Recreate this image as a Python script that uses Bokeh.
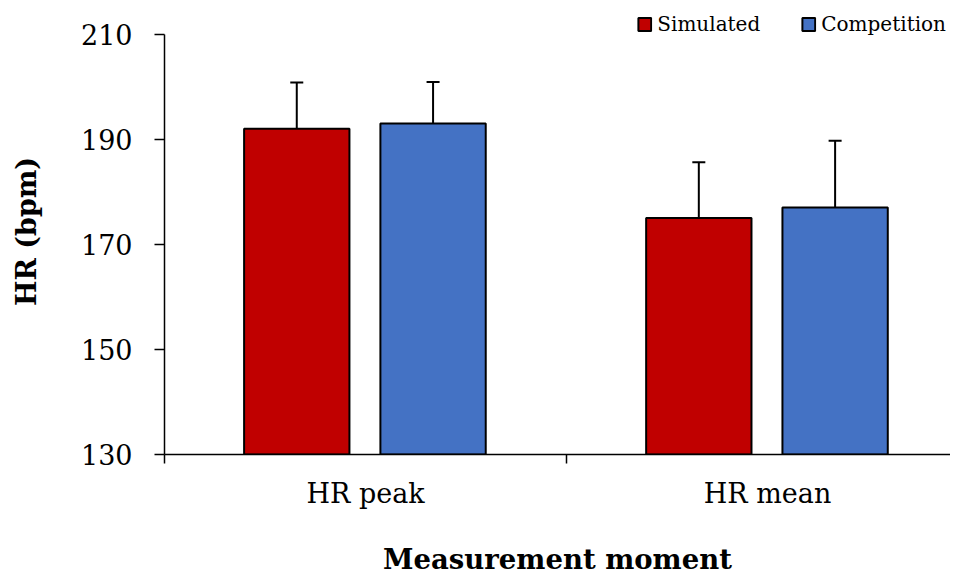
from bokeh.plotting import figure
from bokeh.models import (ColumnDataSource, Range1d, FixedTicker, Whisker, TeeHead,
                          Legend, LegendItem)
from bokeh.embed import file_html
from bokeh.resources import INLINE

# ---- data ----
categories = ["HR peak", "HR mean"]
simulated = [192.0, 175.0]
competition = [193.0, 177.0]
simulated_sd = [8.8, 10.6]
competition_sd = [7.9, 12.7]
y_ticks = [130, 150, 170, 190, 210]

FONT = "DejaVu Serif"
RED = "#C00000"
BLUE = "#4472C4"
BAR_W = 0.262
centers = [i + 0.5 for i in range(len(categories))]

sim_src = ColumnDataSource(dict(
    x=[c - 0.171 for c in centers], top=simulated,
    upper=[m + s for m, s in zip(simulated, simulated_sd)]))
comp_src = ColumnDataSource(dict(
    x=[c + 0.168 for c in centers], top=competition,
    upper=[m + s for m, s in zip(competition, competition_sd)]))

# frame spans fig y 8..454 (446 px); 80 units of data occupy 420.4 px
y_end = 130 + 446 * 80 / 420.4

p = figure(width=950, height=578, output_backend="svg", toolbar_location=None,
           x_range=Range1d(0, 1.955), y_range=Range1d(130, y_end),
           min_border_left=164, min_border_top=8, min_border_bottom=124,
           min_border_right=0)
p.outline_line_color = None
p.xgrid.grid_line_color = None
p.ygrid.grid_line_color = None
p.background_fill_color = "white"

r_sim = p.vbar(x="x", top="top", bottom=130, width=BAR_W, source=sim_src,
               fill_color=RED, line_color="black", line_width=2)
r_comp = p.vbar(x="x", top="top", bottom=130, width=BAR_W, source=comp_src,
                fill_color=BLUE, line_color="black", line_width=2)

for src in (sim_src, comp_src):
    w = Whisker(source=src, base="x", lower="top", upper="upper", dimension="height",
                line_color="black", line_width=2,
                upper_head=TeeHead(size=13, line_width=2, line_color="black"),
                lower_head=None)
    p.add_layout(w)

# y axis
ya = p.yaxis[0]
ya.bounds = (130, 210)
ya.ticker = FixedTicker(ticks=y_ticks, minor_ticks=[])
ya.axis_label = "HR (bpm)"
ya.axis_label_text_font = FONT
ya.axis_label_text_font_style = "bold"
ya.axis_label_text_font_size = "27px"
ya.axis_label_text_color = "black"
ya.major_label_text_font = FONT
ya.major_label_text_font_size = "27px"
ya.major_label_text_color = "black"
ya.major_tick_out = 10
ya.major_tick_in = 0
ya.minor_tick_out = 0
ya.minor_tick_in = 0
ya.major_label_standoff = 22
ya.axis_label_standoff = 36
ya.axis_line_width = 1.5
ya.major_tick_line_width = 1.5

# x axis
xa = p.xaxis[0]
xa.ticker = FixedTicker(ticks=centers, minor_ticks=[0, 1, 2])
xa.major_label_overrides = {c: lab for c, lab in zip(centers, categories)}
xa.axis_label = "Measurement moment"
xa.axis_label_text_font = FONT
xa.axis_label_text_font_style = "bold"
xa.axis_label_text_font_size = "27.5px"
xa.axis_label_text_color = "black"
xa.major_label_text_font = FONT
xa.major_label_text_font_size = "27px"
xa.major_label_text_color = "black"
xa.major_tick_out = 0
xa.major_tick_in = 0
xa.minor_tick_out = 9
xa.minor_tick_in = 0
xa.minor_tick_line_width = 1.5
xa.major_label_standoff = 14
xa.axis_label_standoff = 31
xa.axis_line_width = 1.5

legend = Legend(items=[LegendItem(label="Simulated", renderers=[r_sim]),
                       LegendItem(label="Competition", renderers=[r_comp])],
                orientation="horizontal", location="top_right",
                glyph_width=16, glyph_height=16, label_height=16,
                label_standoff=5, spacing=40, padding=0, margin=4,
                label_text_font=FONT, label_text_font_size="20px",
                label_text_color="black",
                background_fill_alpha=0, border_line_color=None)
p.add_layout(legend, "center")

open("out.html", "w").write(file_html(p, INLINE))
